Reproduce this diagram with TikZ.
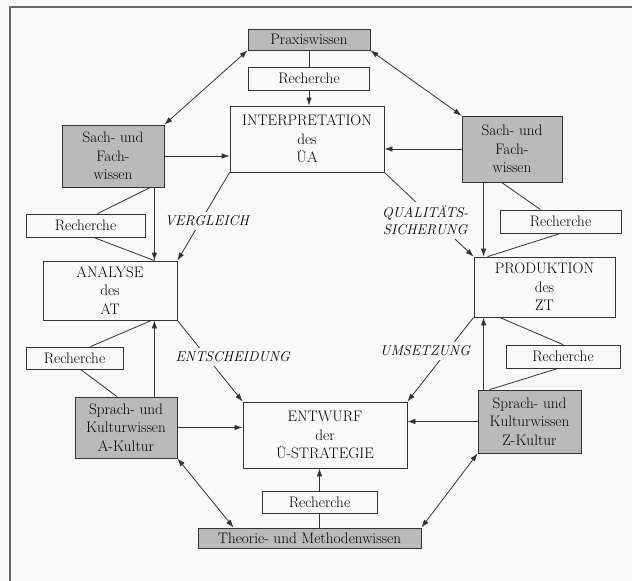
\documentclass[tikz,border=0pt]{standalone}
\usepackage{tikz}
\usetikzlibrary{positioning, arrows.meta}
\definecolor{pagebg}{gray}{0.975}

\begin{document}
\begin{tikzpicture}[x=1pt, y=-1pt, >={Latex[length=8pt,width=5.5pt]},
  every node/.style={font=\fontsize{15.2}{18.5}\selectfont, align=center},
  box/.style={draw=black!80, line width=0.8pt, fill=pagebg, inner sep=0pt},
  greybox/.style={box, fill=black!27},
  lbl/.style={font=\fontsize{14.2}{17}\selectfont\itshape, fill=pagebg, inner sep=4pt},
  conn/.style={draw=black!80, line width=0.8pt}]
  \useasboundingbox (0,0) rectangle (632,581);
  \fill[pagebg] (0,0) rectangle (632,581);
  \draw[black!60, line width=1.3pt] (10,581) -- (10,7) -- (632,7);

  \node[greybox, minimum width=122pt, minimum height=21pt] (praxis) at (309,39.5) {Praxiswissen};
  \node[box, minimum width=121pt, minimum height=23pt] (rechTop) at (309,78.5) {Recherche};
  \node[box, minimum width=154pt, minimum height=66pt] (interp) at (307,139) {INTERPRETATION\\des\\ÜA};
  \node[greybox, minimum width=102pt, minimum height=62pt] (sachL) at (113,156) {Sach- und\\Fach-\\wissen};
  \node[greybox, minimum width=100pt, minimum height=66pt] (sachR) at (512,149) {Sach- und\\Fach-\\wissen};
  \node[box, minimum width=119pt, minimum height=23pt] (rechL) at (85.5,225.5) {Recherche};
  \node[box, minimum width=121pt, minimum height=23pt] (rechR) at (560.5,221.5) {Recherche};
  \node[box, minimum width=134pt, minimum height=59pt] (analyse) at (110,290.5) {ANALYSE\\des\\AT};
  \node[box, minimum width=141pt, minimum height=60pt] (produktion) at (544.5,287) {PRODUKTION\\des\\ZT};
  \node[box, minimum width=97pt, minimum height=22pt] (rechLL) at (74.5,358) {Recherche};
  \node[box, minimum width=114pt, minimum height=23pt] (rechLR) at (563,356.5) {Recherche};
  \node[greybox, minimum width=102pt, minimum height=61pt] (spraA) at (126,427.5) {Sprach- und\\Kulturwissen\\A-Kultur};
  \node[greybox, minimum width=103pt, minimum height=63pt] (spraZ) at (529.5,421.5) {Sprach- und\\Kulturwissen\\Z-Kultur};
  \node[box, minimum width=164pt, minimum height=66pt] (entwurf) at (325,435) {ENTWURF\\der\\Ü-STRATEGIE};
  \node[box, minimum width=115pt, minimum height=22pt] (rechB) at (319.5,502) {Recherche};
  \node[greybox, minimum width=223pt, minimum height=20pt] (theorie) at (309.5,538) {Theorie- und Methodenwissen};

  \coordinate (sL) at ([xshift=-10pt]sachL.south east);
  \coordinate (aLt) at (sL |- analyse.north);
  \coordinate (aLb) at (sL |- analyse.south);
  \coordinate (kA) at (sL |- spraA.north);
  \coordinate (sR) at ([xshift=22pt]sachR.south west);
  \coordinate (pRt) at (sR |- produktion.north);
  \coordinate (pRb) at (sR |- produktion.south);
  \coordinate (kZ) at (sR |- spraZ.north);

  % top
  \draw[conn] (praxis) -- (rechTop);
  \draw[conn,->] (rechTop.south) -- (rechTop.south |- interp.north);
  \draw[conn,<->] (praxis.south west) -- (sachL.north east);
  \draw[conn,<->] (praxis.south east) -- (sachR.north west);
  \draw[conn,->] (sachL.east) -- (sachL.east -| interp.west);
  \draw[conn,->] (sachR.west) -- (sachR.west -| interp.east);

  % left
  \draw[conn,->] (sL) -- (aLt);
  \draw[conn,->] (kA) -- (aLb);
  \draw[conn] ([xshift=-4pt]sL) -- ([xshift=12pt]rechL.north);
  \draw[conn] ([xshift=8pt]rechL.south) -- (aLt);
  \draw[conn] ([xshift=-3pt]aLb) -- ([xshift=16pt]rechLL.north);
  \draw[conn] ([xshift=6pt]rechLL.south) -- ([xshift=-9pt]spraA.north);

  % right
  \draw[conn,->] (sR) -- (pRt);
  \draw[conn,->] (kZ) -- (pRb);
  \draw[conn] ([xshift=18pt]sR) -- ([xshift=-20pt]rechR.north);
  \draw[conn] (rechR.south) -- ([xshift=4pt]pRt);
  \draw[conn] ([xshift=16pt]pRb) -- (rechLR.north);
  \draw[conn] ([xshift=-5pt]rechLR.south) -- ([xshift=6pt]kZ);

  % steps
  \draw[conn,->] (interp.south west) -- node[lbl, pos=0.55, xshift=6pt] (verg) {VERGLEICH} (analyse.north east);
  \draw[conn,->] (interp.south east) -- node[lbl, pos=0.57, xshift=-10pt] (quali) {QUALITÄTS-\\SICHERUNG} (produktion.north west);
  \draw[conn,->] (analyse.south east) -- node[lbl, pos=0.45, xshift=26pt] (entsch) {ENTSCHEIDUNG} (entwurf.north west);
  \draw[conn,->] (produktion.south west) -- node[lbl, pos=0.4, xshift=-22pt] (umsetz) {UMSETZUNG} (entwurf.north east);

  % bottom
  \draw[conn,->] (spraA.east) -- (spraA.east -| entwurf.west);
  \draw[conn,->] (spraZ.west) -- (spraZ.west -| entwurf.east);
  \draw[conn] (theorie.north -| rechB) -- (rechB.south);
  \draw[conn,->] (rechB.north) -- (rechB.north |- entwurf.south);
  \draw[conn,<->] (spraA.south east) -- ([xshift=36pt]theorie.north west);
  \draw[conn,<->] (spraZ.south west) -- (theorie.north east);
\end{tikzpicture}
\end{document}
